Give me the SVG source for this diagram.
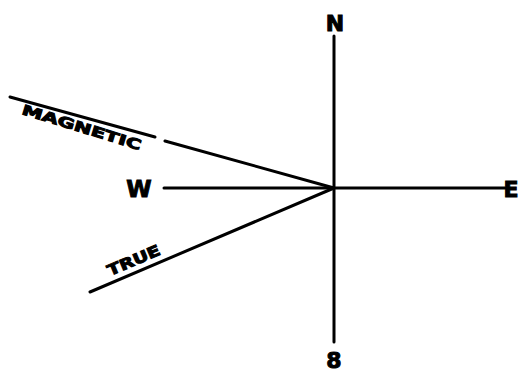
<svg xmlns="http://www.w3.org/2000/svg" width="524" height="381" viewBox="0 0 524 381">
<style>
.ln{stroke:#000;stroke-width:3;stroke-linecap:round;fill:none}
.lb{font-family:"DejaVu Sans","Liberation Sans",sans-serif;font-weight:bold;fill:#000;stroke:#000;stroke-width:1}
</style>
<rect width="524" height="381" fill="#fff"/>
<g id="connectors">
<line class="ln" x1="334" y1="36" x2="334" y2="342"/>
<line class="ln" x1="164" y1="188" x2="505" y2="188"/>
<line class="ln" x1="10" y1="97" x2="155" y2="137"/>
<line class="ln" x1="165" y1="141" x2="334" y2="188"/>
<line class="ln" x1="90" y1="292" x2="334" y2="188"/>
</g>
<g id="N"><text class="lb" x="335" y="31" font-size="22" text-anchor="middle">N</text></g>
<g id="S"><text class="lb" x="334" y="368" font-size="22" text-anchor="middle">8</text></g>
<g id="W"><text class="lb" x="139" y="197" font-size="23" text-anchor="middle">W</text></g>
<g id="E"><text class="lb" x="511" y="197" font-size="22" text-anchor="middle">E</text></g>
<g id="magnetic"><text class="lb" transform="translate(21,114) rotate(17)" font-size="14" textLength="124" lengthAdjust="spacingAndGlyphs">MAGNETIC</text></g>
<g id="true"><text class="lb" transform="translate(110,276) rotate(-23)" font-size="15" textLength="56" lengthAdjust="spacingAndGlyphs">TRUE</text></g>
</svg>
